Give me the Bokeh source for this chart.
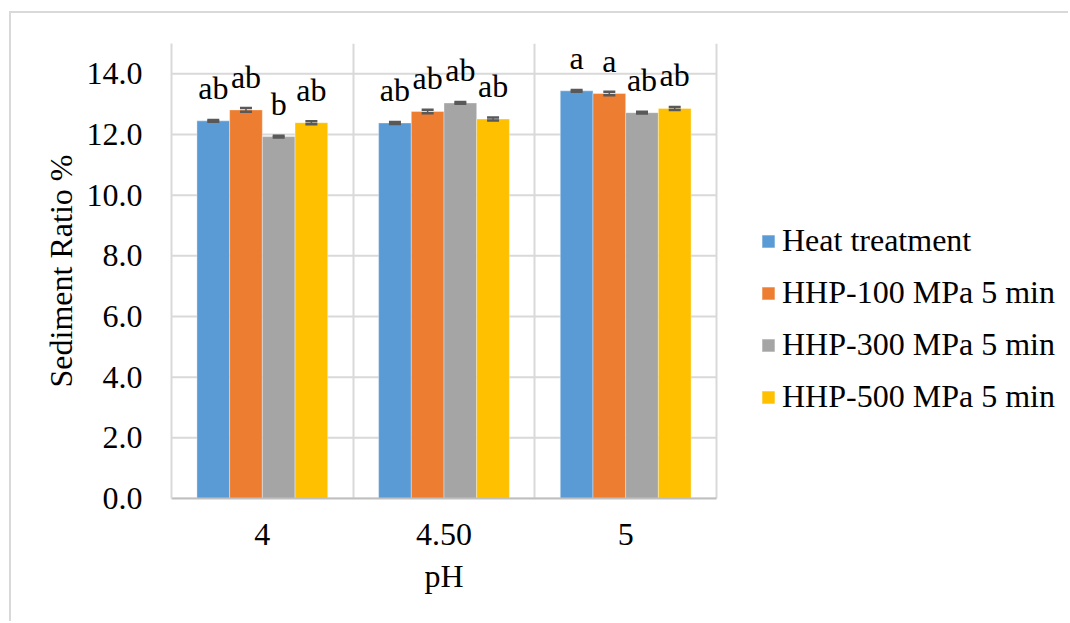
from bokeh.plotting import figure
from bokeh.models import (ColumnDataSource, Range1d, FixedTicker, Legend, LegendItem,
                          Whisker, TeeHead, LinearAxis)
from bokeh.core.properties import value
from bokeh.embed import file_html
from bokeh.resources import INLINE

categories = ["4", "4.50", "5"]
series = ["Heat treatment", "HHP-100 MPa 5 min", "HHP-300 MPa 5 min", "HHP-500 MPa 5 min"]
heat = [12.45, 12.38, 13.44]
hhp100 = [12.81, 12.76, 13.35]
hhp300 = [11.93, 13.04, 12.72]
hhp500 = [12.39, 12.51, 12.86]
heat_err = [0.03, 0.03, 0.03]
hhp100_err = [0.06, 0.06, 0.06]
hhp300_err = [0.03, 0.03, 0.03]
hhp500_err = [0.05, 0.05, 0.05]
heat_letters = ["ab", "ab", "a"]
hhp100_letters = ["ab", "ab", "a"]
hhp300_letters = ["b", "ab", "ab"]
hhp500_letters = ["ab", "ab", "ab"]
y_ticks = [0, 2, 4, 6, 8, 10, 12, 14]
x_title = "pH"
y_title = "Sediment Ratio %"

colors = ["#5B9BD5", "#ED7D31", "#A5A5A5", "#FFC000"]
FONT = "Liberation Serif"
BAR_W = 0.18

W, H = 1059, 610
LEFT, TOP, BOTTOM = 160, 30, 125
PLOT_W = 545  # pixel width of the category area
n = len(categories)
x_end = n * (W - LEFT) / PLOT_W  # extend range so legend lives inside the frame

p = figure(width=W, height=H, output_backend="svg", toolbar_location=None,
           x_range=Range1d(0, x_end), y_range=Range1d(0, 15),
           min_border_left=LEFT, min_border_right=0, min_border_top=TOP, min_border_bottom=BOTTOM,
           styles={"margin-left": "9px", "margin-top": "11px",
                   "border-left": "2px solid #D9D9D9", "border-top": "2px solid #D9D9D9"})
p.outline_line_color = None
p.background_fill_color = "white"
p.border_fill_color = "white"

# horizontal grid lines limited to the category area
p.ygrid.visible = False
p.segment(x0=[0] * len(y_ticks), x1=[n] * len(y_ticks), y0=y_ticks, y1=y_ticks,
          line_color="#D9D9D9", line_width=2, level="underlay")

all_vals = [heat, hhp100, hhp300, hhp500]
all_errs = [heat_err, hhp100_err, hhp300_err, hhp500_err]
all_letters = [heat_letters, hhp100_letters, hhp300_letters, hhp500_letters]

items = []
for i, (name, vals, errs, letters) in enumerate(zip(series, all_vals, all_errs, all_letters)):
    xs = [ci + 0.5 + (i - 1.5) * BAR_W for ci in range(n)]
    src = ColumnDataSource(dict(x=xs, top=vals,
                                upper=[v + e for v, e in zip(vals, errs)],
                                lower=[v - e for v, e in zip(vals, errs)],
                                lab=letters))
    r = p.vbar(x="x", top="top", width=BAR_W, bottom=0, source=src,
               fill_color=colors[i], line_color="white", line_width=0.6, line_alpha=0.6)
    items.append(LegendItem(label=name, renderers=[r]))
    w = Whisker(source=src, base="x", upper="upper", lower="lower", dimension="height",
                line_color="#595959", line_width=1.5, level="overlay",
                upper_head=TeeHead(size=12, line_color="#595959", line_width=2.5),
                lower_head=TeeHead(size=12, line_color="#595959", line_width=2.5))
    p.add_layout(w)
    p.text(x="x", y="top", text="lab", source=src, text_align="center",
           text_baseline="alphabetic", y_offset=-33, text_font=value(FONT),
           text_font_size="32px", text_color="black")

# x axis (category labels)
p.xaxis.ticker = FixedTicker(ticks=[ci + 0.5 for ci in range(n)])
p.xaxis.major_label_overrides = {ci + 0.5: c for ci, c in enumerate(categories)}
p.xaxis.bounds = (0, n)
p.xaxis.major_tick_line_color = None
p.xaxis.minor_tick_line_color = None
p.xaxis.axis_line_color = "#BFBFBF"
p.xaxis.axis_line_width = 2
p.xaxis.major_label_text_font = FONT
p.xaxis.major_label_text_font_size = "32px"
p.xaxis.major_label_text_color = "black"
p.xaxis.major_label_standoff = 19

# x axis title centred over the category area
title_axis = LinearAxis(ticker=FixedTicker(ticks=[n / 2]),
                        major_label_overrides={n / 2: x_title},
                        axis_line_color=None, major_tick_line_color=None,
                        minor_tick_line_color=None,
                        major_label_text_font=FONT, major_label_text_font_size="32px",
                        major_label_text_color="black", major_label_standoff=4)
p.add_layout(title_axis, "below")

p.yaxis.ticker = FixedTicker(ticks=y_ticks)
p.yaxis.major_label_overrides = {t: f"{t:.1f}" for t in y_ticks}
p.yaxis.major_tick_line_color = None
p.yaxis.minor_tick_line_color = None
p.yaxis.axis_line_color = "#D9D9D9"
p.yaxis.axis_line_width = 2
p.yaxis.major_label_text_font = FONT
p.yaxis.major_label_text_font_size = "32px"
p.yaxis.major_label_text_color = "black"
p.yaxis.major_label_standoff = 23
p.yaxis.axis_label = y_title
p.yaxis.axis_label_text_font = FONT
p.yaxis.axis_label_text_font_size = "32px"
p.yaxis.axis_label_text_font_style = "normal"
p.yaxis.axis_label_text_color = "black"
p.yaxis.axis_label_standoff = 5

p.xgrid.ticker = FixedTicker(ticks=list(range(n + 1)))
p.xgrid.grid_line_color = "#D9D9D9"
p.xgrid.grid_line_width = 2

legend = Legend(items=items, location=(589, 83), orientation="vertical",
                glyph_width=16, glyph_height=16, label_standoff=6,
                label_text_font=FONT, label_text_font_size="32px", label_text_color="black",
                spacing=15, padding=0, margin=0, border_line_color=None,
                background_fill_alpha=0)
p.add_layout(legend, "center")

open("out.html", "w").write(file_html(p, INLINE))
